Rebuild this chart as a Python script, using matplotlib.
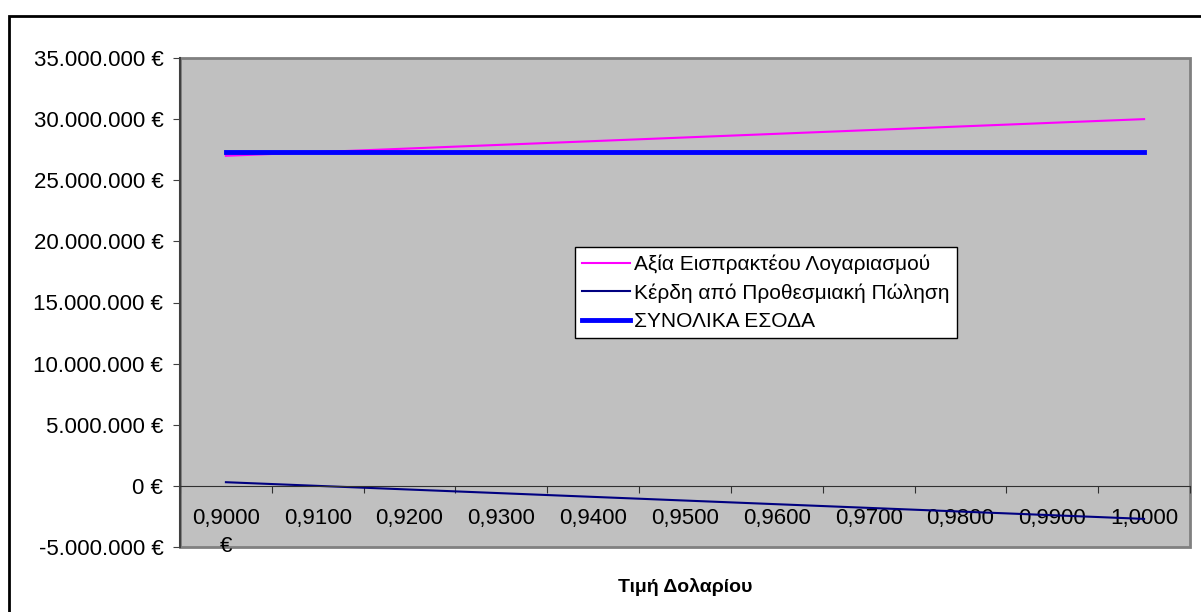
import numpy as np
import matplotlib.pyplot as plt
from matplotlib.patches import Rectangle
from matplotlib.ticker import FuncFormatter

plt.rcParams['font.family'] = ['Liberation Sans', 'DejaVu Sans']

# exchange rate categories
rates = ['0,9000\n€', '0,9100', '0,9200', '0,9300', '0,9400', '0,9500',
         '0,9600', '0,9700', '0,9800', '0,9900', '1,0000']
# values in euro
axia = [27.0e6, 27.3e6, 27.6e6, 27.9e6, 28.2e6, 28.5e6,
        28.8e6, 29.1e6, 29.4e6, 29.7e6, 30.0e6]
kerdi = [0.3e6, 0.0, -0.3e6, -0.6e6, -0.9e6, -1.2e6,
         -1.5e6, -1.8e6, -2.1e6, -2.4e6, -2.7e6]
synolika = [27.3e6] * 11

fig = plt.figure(figsize=(12.01, 6.12), dpi=100)
ax = fig.add_axes([180/1201, 65/612, 1010/1201, 489/612])
ax.set_facecolor('#C0C0C0')

x = np.arange(len(rates))
ax.plot(x, axia, color='#FF00FF', lw=1.5, label='Αξία Εισπρακτέου Λογαριασμού')
ax.plot(x, kerdi, color='#000080', lw=1.5, label='Κέρδη από Προθεσμιακή Πώληση')
ax.plot(x, synolika, color='#0000FF', lw=3.5, label='ΣΥΝΟΛΙΚΑ ΕΣΟΔΑ')

ax.set_xlim(-0.5, len(rates) - 0.5)
ax.set_ylim(-5e6, 35e6)
ax.set_yticks(np.arange(-5e6, 35.1e6, 5e6))

def euro(v, pos):
    return '{:,.0f} €'.format(v).replace(',', '.')
ax.yaxis.set_major_formatter(FuncFormatter(euro))

# x axis crosses at zero, ticks between categories
ax.spines['bottom'].set_position(('data', 0))
ax.spines['bottom'].set_color('#303030')
ax.spines['left'].set_color('#404040')
ax.spines['left'].set_linewidth(1.5)
for s in ['top', 'right']:
    ax.spines[s].set_visible(False)
ax.add_patch(Rectangle((0, 0), 1, 1, transform=ax.transAxes, fill=False,
                       edgecolor='#808080', lw=2, zorder=0.5, clip_on=False))

ax.set_xticks(np.arange(-0.5, len(rates), 1.0))
ax.set_xticklabels([])
ax.set_xticks(x, minor=True)
labels = ax.set_xticklabels(rates, minor=True, fontsize=16)
labels[0].set_linespacing(1.45)
ax.tick_params(axis='x', which='major', direction='out', length=5, color='#303030')
ax.tick_params(axis='x', which='minor', length=0, pad=16)
ax.tick_params(axis='y', direction='out', length=5, color='#404040', labelsize=16, pad=7)

ax.text(0.5, -0.082, 'Τιμή Δολαρίου', transform=ax.transAxes, ha='center', va='center',
        fontsize=14, fontweight='bold')

leg = ax.legend(loc='center', bbox_to_anchor=(0.58, 0.52), fontsize=15, frameon=True,
                fancybox=False, edgecolor='black', framealpha=1, handlelength=2.3,
                handletextpad=0.2, labelspacing=0.45, borderpad=0.35, borderaxespad=0)
leg.get_frame().set_linewidth(1.0)

# outer chart frame
fig.patches.append(Rectangle((9/1201, -0.1), 1.2, (612-16)/612 + 0.1,
                             transform=fig.transFigure, fill=False,
                             edgecolor='black', lw=2))

fig.savefig('out.png', dpi=100)
